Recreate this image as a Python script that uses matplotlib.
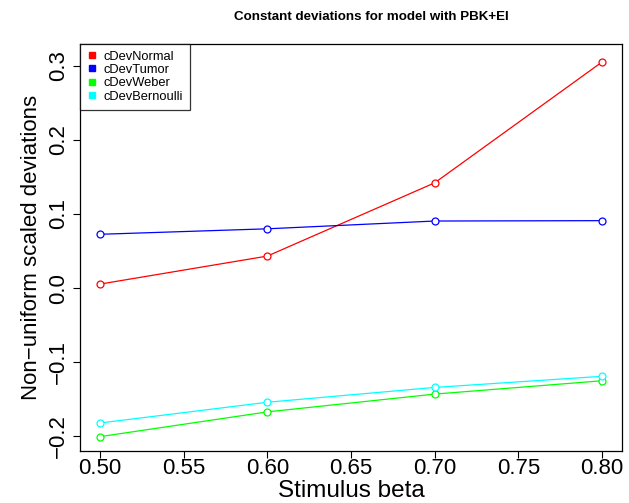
import matplotlib
matplotlib.use('Agg')
import matplotlib.pyplot as plt

plt.rcParams['font.family'] = ['Liberation Sans', 'DejaVu Sans']

beta = [0.50, 0.60, 0.70, 0.80]
cDevNormal = [0.0054, 0.0432, 0.142, 0.305]
cDevTumor = [0.0726, 0.080, 0.0905, 0.091]
cDevWeber = [-0.2004, -0.167, -0.143, -0.125]
cDevBernoulli = [-0.182, -0.154, -0.134, -0.119]

series = [('cDevNormal', cDevNormal, '#FF0000'),
          ('cDevTumor', cDevTumor, '#0000FF'),
          ('cDevWeber', cDevWeber, '#00FF00'),
          ('cDevBernoulli', cDevBernoulli, '#00FFFF')]

xticks = [0.50, 0.55, 0.60, 0.65, 0.70, 0.75, 0.80]
yticks = [-0.2, -0.1, 0.0, 0.1, 0.2, 0.3]

fig = plt.figure(figsize=(6.29, 5.03), dpi=100)
ax = fig.add_axes([0.127, 0.1026, 0.862, 0.8109])

handles = []
for name, vals, col in series:
    ax.plot(beta, vals, color=col, lw=0.9, marker='o', ms=5, mfc='white',
            mec=col, mew=0.9)
    h, = ax.plot([], [], ls='none', marker='s', ms=5, color=col, label=name)
    handles.append(h)

ax.set_xlim(0.488, 0.812)
ax.set_ylim(-0.2203, 0.330)
ax.set_xticks(xticks)
ax.set_xticklabels(['%.2f' % t for t in xticks], fontsize=16)
ax.set_yticks(yticks)
ax.set_yticklabels(['\u22120.2', '\u22120.1', '0.0', '0.1', '0.2', '0.3'],
                   fontsize=16, rotation=90, va='center')
ax.tick_params(direction='out', length=5, width=0.8)
ax.tick_params(axis='x', pad=0)
ax.tick_params(axis='y', pad=3)
for s in ax.spines.values():
    s.set_linewidth(0.9)

fig.text(351 / 629, 0.6 / 503, 'Stimulus beta', ha='center', va='bottom',
         fontsize=17.5)
ax.set_ylabel('Non\u2212uniform scaled deviations', fontsize=16, labelpad=4)

leg = ax.legend(handles=handles, loc='upper left', fontsize=9.3,
                frameon=True, fancybox=False, borderaxespad=0,
                handlelength=0.8, handletextpad=0.5, labelspacing=0.1,
                borderpad=0.55)
leg.get_frame().set_edgecolor('black')
leg.get_frame().set_linewidth(0.9)

fig.text(371 / 629, 1 - 17 / 503, 'Constant deviations for model with PBK+EI',
         ha='center', va='center', fontsize=9.6, fontweight='bold')

fig.savefig('out.png', dpi=100)
